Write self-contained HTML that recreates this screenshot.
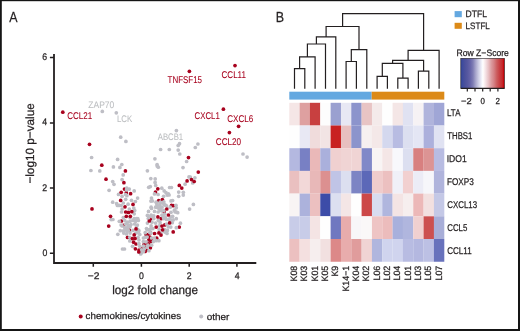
<!DOCTYPE html>
<html><head><meta charset="utf-8"><style>
html,body{margin:0;padding:0;background:#fff;}
body{width:520px;height:331px;overflow:hidden;position:relative;}
svg{position:absolute;left:0;top:0;will-change:transform;}
text{font-family:"Liberation Sans",sans-serif;stroke-width:0.25px;text-rendering:geometricPrecision;}
</style></head><body>
<svg width="520" height="331" viewBox="0 0 520 331" fill="#231f20">
<rect x="0" y="0" width="520" height="331" fill="#fff"/>
<text x="9.30" y="22.10" font-size="14.6" textLength="8.29" lengthAdjust="spacingAndGlyphs" fill="#231f20" stroke="#231f20">A</text>
<text x="275.80" y="22.30" font-size="14.6" textLength="8.31" lengthAdjust="spacingAndGlyphs" fill="#231f20" stroke="#231f20">B</text>
<!-- panel A axes -->
<path d="M54,54V263H256.3" fill="none" stroke="#231f20" stroke-width="1.8"/>
<path d="M49.9,57.6H54M49.9,122.9H54M49.9,188.1H54M49.9,253.3H54M93.3,263V266.7M141.4,263V266.7M189.2,263V266.7M236.9,263V266.7" stroke="#231f20" stroke-width="1.5"/>
<text x="44.75" y="60.00" font-size="9.5" text-anchor="middle" textLength="4.86" lengthAdjust="spacingAndGlyphs" fill="#231f20" stroke="#231f20">6</text>
<text x="44.80" y="125.10" font-size="9.5" text-anchor="middle" textLength="4.86" lengthAdjust="spacingAndGlyphs" fill="#231f20" stroke="#231f20">4</text>
<text x="44.80" y="191.00" font-size="9.5" text-anchor="middle" textLength="4.86" lengthAdjust="spacingAndGlyphs" fill="#231f20" stroke="#231f20">2</text>
<text x="44.95" y="256.40" font-size="9.5" text-anchor="middle" textLength="4.86" lengthAdjust="spacingAndGlyphs" fill="#231f20" stroke="#231f20">0</text>
<text x="93.65" y="279.20" font-size="9.5" text-anchor="middle" textLength="11.70" lengthAdjust="spacingAndGlyphs" fill="#231f20" stroke="#231f20">−2</text>
<text x="141.50" y="279.20" font-size="9.5" text-anchor="middle" textLength="4.86" lengthAdjust="spacingAndGlyphs" fill="#231f20" stroke="#231f20">0</text>
<text x="189.20" y="279.20" font-size="9.5" text-anchor="middle" textLength="4.86" lengthAdjust="spacingAndGlyphs" fill="#231f20" stroke="#231f20">2</text>
<text x="237.20" y="279.20" font-size="9.5" text-anchor="middle" textLength="4.86" lengthAdjust="spacingAndGlyphs" fill="#231f20" stroke="#231f20">4</text>
<text x="112.18" y="293.60" font-size="12.0" textLength="85.80" lengthAdjust="spacingAndGlyphs" fill="#231f20" stroke="#231f20">log2 fold change</text>
<text transform="translate(33.9,183.6) rotate(-90)" textLength="80.3" lengthAdjust="spacingAndGlyphs" font-size="11.9" stroke="#231f20">−log10 p−value</text>
<circle cx="124.5" cy="189.1" r="1.85" fill="#a8021e"/>
<circle cx="126.3" cy="192.7" r="1.85" fill="#a8021e"/>
<circle cx="128.4" cy="212.4" r="1.85" fill="#a8021e"/>
<circle cx="121.5" cy="221.0" r="1.85" fill="#a8021e"/>
<circle cx="123.3" cy="225.3" r="1.85" fill="#a8021e"/>
<circle cx="129.3" cy="230.1" r="1.85" fill="#a8021e"/>
<circle cx="127.5" cy="237.4" r="1.85" fill="#a8021e"/>
<circle cx="136.0" cy="244.0" r="1.85" fill="#a8021e"/>
<circle cx="135.4" cy="248.8" r="1.85" fill="#a8021e"/>
<circle cx="139.0" cy="250.0" r="1.85" fill="#a8021e"/>
<circle cx="142.0" cy="248.8" r="1.85" fill="#a8021e"/>
<circle cx="146.3" cy="250.0" r="1.85" fill="#a8021e"/>
<circle cx="148.7" cy="244.0" r="1.85" fill="#a8021e"/>
<circle cx="144.0" cy="244.6" r="1.85" fill="#a8021e"/>
<circle cx="145.1" cy="251.5" r="1.85" fill="#a8021e"/>
<circle cx="150.4" cy="247.8" r="1.85" fill="#a8021e"/>
<circle cx="149.9" cy="237.2" r="1.85" fill="#a8021e"/>
<circle cx="150.9" cy="241.4" r="1.85" fill="#a8021e"/>
<circle cx="147.8" cy="234.5" r="1.85" fill="#a8021e"/>
<circle cx="150.4" cy="232.9" r="1.85" fill="#a8021e"/>
<circle cx="154.6" cy="233.5" r="1.85" fill="#a8021e"/>
<circle cx="156.7" cy="238.2" r="1.85" fill="#a8021e"/>
<circle cx="155.5" cy="192.1" r="1.85" fill="#a8021e"/>
<circle cx="158.7" cy="200.5" r="1.85" fill="#a8021e"/>
<circle cx="162.4" cy="199.6" r="1.85" fill="#a8021e"/>
<circle cx="173.2" cy="205.7" r="1.85" fill="#a8021e"/>
<circle cx="164.2" cy="212.0" r="1.85" fill="#a8021e"/>
<circle cx="150.3" cy="219.3" r="1.85" fill="#a8021e"/>
<circle cx="161.1" cy="218.7" r="1.85" fill="#a8021e"/>
<circle cx="164.8" cy="224.9" r="1.85" fill="#a8021e"/>
<circle cx="173.2" cy="231.9" r="1.85" fill="#a8021e"/>
<circle cx="179.3" cy="227.1" r="1.85" fill="#a8021e"/>
<circle cx="151.5" cy="239.8" r="1.85" fill="#a8021e"/>
<circle cx="144.8" cy="247.6" r="1.85" fill="#a8021e"/>
<circle cx="141.2" cy="251.3" r="1.85" fill="#a8021e"/>
<circle cx="147.0" cy="243.1" r="1.85" fill="#a8021e"/>
<circle cx="146.1" cy="234.5" r="1.85" fill="#a8021e"/>
<circle cx="171.5" cy="205.4" r="1.85" fill="#a8021e"/>
<circle cx="148.9" cy="239.8" r="1.85" fill="#a8021e"/>
<circle cx="144.3" cy="249.3" r="1.85" fill="#a8021e"/>
<circle cx="102.3" cy="111.4" r="1.85" fill="#bebec5"/>
<circle cx="116.3" cy="112.8" r="1.85" fill="#bebec5"/>
<circle cx="176.4" cy="130.6" r="1.85" fill="#bebec5"/>
<circle cx="120.7" cy="137.2" r="1.85" fill="#bebec5"/>
<circle cx="125.9" cy="141.4" r="1.85" fill="#bebec5"/>
<circle cx="91.6" cy="157.5" r="1.85" fill="#bebec5"/>
<circle cx="117.6" cy="159.4" r="1.85" fill="#bebec5"/>
<circle cx="113.4" cy="166.9" r="1.85" fill="#bebec5"/>
<circle cx="121.8" cy="164.5" r="1.85" fill="#bebec5"/>
<circle cx="119.9" cy="167.4" r="1.85" fill="#bebec5"/>
<circle cx="90.9" cy="170.5" r="1.85" fill="#bebec5"/>
<circle cx="99.8" cy="170.9" r="1.85" fill="#bebec5"/>
<circle cx="123.2" cy="174.9" r="1.85" fill="#bebec5"/>
<circle cx="112.7" cy="181.6" r="1.85" fill="#bebec5"/>
<circle cx="114.0" cy="184.3" r="1.85" fill="#bebec5"/>
<circle cx="122.1" cy="179.6" r="1.85" fill="#bebec5"/>
<circle cx="109.1" cy="190.3" r="1.85" fill="#bebec5"/>
<circle cx="126.7" cy="188.1" r="1.85" fill="#bebec5"/>
<circle cx="118.5" cy="194.4" r="1.85" fill="#bebec5"/>
<circle cx="112.7" cy="202.2" r="1.85" fill="#bebec5"/>
<circle cx="111.2" cy="219.6" r="1.85" fill="#bebec5"/>
<circle cx="117.8" cy="234.3" r="1.85" fill="#bebec5"/>
<circle cx="122.5" cy="249.0" r="1.85" fill="#bebec5"/>
<circle cx="124.5" cy="249.0" r="1.85" fill="#bebec5"/>
<circle cx="129.3" cy="189.1" r="1.85" fill="#bebec5"/>
<circle cx="134.2" cy="190.9" r="1.85" fill="#bebec5"/>
<circle cx="122.1" cy="196.3" r="1.85" fill="#bebec5"/>
<circle cx="126.9" cy="195.7" r="1.85" fill="#bebec5"/>
<circle cx="137.6" cy="198.1" r="1.85" fill="#bebec5"/>
<circle cx="125.7" cy="199.3" r="1.85" fill="#bebec5"/>
<circle cx="131.5" cy="200.3" r="1.85" fill="#bebec5"/>
<circle cx="116.6" cy="203.6" r="1.85" fill="#bebec5"/>
<circle cx="119.1" cy="205.4" r="1.85" fill="#bebec5"/>
<circle cx="123.3" cy="203.0" r="1.85" fill="#bebec5"/>
<circle cx="128.1" cy="204.2" r="1.85" fill="#bebec5"/>
<circle cx="135.4" cy="201.5" r="1.85" fill="#bebec5"/>
<circle cx="122.1" cy="209.0" r="1.85" fill="#bebec5"/>
<circle cx="129.3" cy="209.0" r="1.85" fill="#bebec5"/>
<circle cx="134.2" cy="213.8" r="1.85" fill="#bebec5"/>
<circle cx="121.5" cy="212.0" r="1.85" fill="#bebec5"/>
<circle cx="123.3" cy="217.5" r="1.85" fill="#bebec5"/>
<circle cx="134.2" cy="218.7" r="1.85" fill="#bebec5"/>
<circle cx="137.8" cy="218.7" r="1.85" fill="#bebec5"/>
<circle cx="148.7" cy="187.3" r="1.85" fill="#bebec5"/>
<circle cx="148.7" cy="216.3" r="1.85" fill="#bebec5"/>
<circle cx="122.1" cy="225.9" r="1.85" fill="#bebec5"/>
<circle cx="120.3" cy="230.7" r="1.85" fill="#bebec5"/>
<circle cx="140.2" cy="252.5" r="1.85" fill="#bebec5"/>
<circle cx="155.1" cy="182.4" r="1.85" fill="#bebec5"/>
<circle cx="155.7" cy="185.4" r="1.85" fill="#bebec5"/>
<circle cx="150.3" cy="186.6" r="1.85" fill="#bebec5"/>
<circle cx="161.8" cy="188.2" r="1.85" fill="#bebec5"/>
<circle cx="169.6" cy="187.5" r="1.85" fill="#bebec5"/>
<circle cx="171.4" cy="187.5" r="1.85" fill="#bebec5"/>
<circle cx="154.5" cy="193.9" r="1.85" fill="#bebec5"/>
<circle cx="158.1" cy="194.5" r="1.85" fill="#bebec5"/>
<circle cx="164.2" cy="190.9" r="1.85" fill="#bebec5"/>
<circle cx="166.0" cy="192.7" r="1.85" fill="#bebec5"/>
<circle cx="168.4" cy="193.9" r="1.85" fill="#bebec5"/>
<circle cx="167.2" cy="195.1" r="1.85" fill="#bebec5"/>
<circle cx="163.6" cy="196.3" r="1.85" fill="#bebec5"/>
<circle cx="178.7" cy="192.1" r="1.85" fill="#bebec5"/>
<circle cx="178.7" cy="196.3" r="1.85" fill="#bebec5"/>
<circle cx="151.5" cy="198.1" r="1.85" fill="#bebec5"/>
<circle cx="150.9" cy="201.1" r="1.85" fill="#bebec5"/>
<circle cx="172.6" cy="200.5" r="1.85" fill="#bebec5"/>
<circle cx="156.9" cy="203.6" r="1.85" fill="#bebec5"/>
<circle cx="161.1" cy="203.0" r="1.85" fill="#bebec5"/>
<circle cx="164.2" cy="204.8" r="1.85" fill="#bebec5"/>
<circle cx="176.3" cy="207.8" r="1.85" fill="#bebec5"/>
<circle cx="170.2" cy="207.2" r="1.85" fill="#bebec5"/>
<circle cx="151.5" cy="208.4" r="1.85" fill="#bebec5"/>
<circle cx="156.9" cy="207.2" r="1.85" fill="#bebec5"/>
<circle cx="159.9" cy="208.4" r="1.85" fill="#bebec5"/>
<circle cx="148.5" cy="211.4" r="1.85" fill="#bebec5"/>
<circle cx="154.5" cy="211.4" r="1.85" fill="#bebec5"/>
<circle cx="158.1" cy="212.0" r="1.85" fill="#bebec5"/>
<circle cx="161.8" cy="210.8" r="1.85" fill="#bebec5"/>
<circle cx="174.4" cy="210.2" r="1.85" fill="#bebec5"/>
<circle cx="176.3" cy="212.0" r="1.85" fill="#bebec5"/>
<circle cx="152.1" cy="216.3" r="1.85" fill="#bebec5"/>
<circle cx="163.0" cy="216.3" r="1.85" fill="#bebec5"/>
<circle cx="165.4" cy="217.5" r="1.85" fill="#bebec5"/>
<circle cx="172.6" cy="216.3" r="1.85" fill="#bebec5"/>
<circle cx="176.3" cy="218.7" r="1.85" fill="#bebec5"/>
<circle cx="170.8" cy="227.1" r="1.85" fill="#bebec5"/>
<circle cx="176.3" cy="227.7" r="1.85" fill="#bebec5"/>
<circle cx="166.0" cy="230.7" r="1.85" fill="#bebec5"/>
<circle cx="160.6" cy="149.5" r="1.85" fill="#bebec5"/>
<circle cx="169.3" cy="149.5" r="1.85" fill="#bebec5"/>
<circle cx="154.9" cy="158.8" r="1.85" fill="#bebec5"/>
<circle cx="157.2" cy="166.1" r="1.85" fill="#bebec5"/>
<circle cx="158.3" cy="167.2" r="1.85" fill="#bebec5"/>
<circle cx="147.4" cy="170.8" r="1.85" fill="#bebec5"/>
<circle cx="150.8" cy="178.6" r="1.85" fill="#bebec5"/>
<circle cx="155.2" cy="178.9" r="1.85" fill="#bebec5"/>
<circle cx="179.5" cy="143.7" r="1.85" fill="#bebec5"/>
<circle cx="178.2" cy="145.5" r="1.85" fill="#bebec5"/>
<circle cx="197.9" cy="144.0" r="1.85" fill="#bebec5"/>
<circle cx="195.3" cy="147.5" r="1.85" fill="#bebec5"/>
<circle cx="178.2" cy="150.1" r="1.85" fill="#bebec5"/>
<circle cx="179.8" cy="154.0" r="1.85" fill="#bebec5"/>
<circle cx="186.6" cy="161.5" r="1.85" fill="#bebec5"/>
<circle cx="157.1" cy="164.6" r="1.85" fill="#bebec5"/>
<circle cx="183.0" cy="167.6" r="1.85" fill="#bebec5"/>
<circle cx="190.4" cy="177.1" r="1.85" fill="#bebec5"/>
<circle cx="194.9" cy="177.8" r="1.85" fill="#bebec5"/>
<circle cx="192.7" cy="183.0" r="1.85" fill="#bebec5"/>
<circle cx="185.1" cy="184.2" r="1.85" fill="#bebec5"/>
<circle cx="183.3" cy="192.3" r="1.85" fill="#bebec5"/>
<circle cx="183.3" cy="195.1" r="1.85" fill="#bebec5"/>
<circle cx="176.0" cy="205.3" r="1.85" fill="#bebec5"/>
<circle cx="193.4" cy="204.4" r="1.85" fill="#bebec5"/>
<circle cx="189.6" cy="209.1" r="1.85" fill="#bebec5"/>
<circle cx="175.0" cy="211.8" r="1.85" fill="#bebec5"/>
<circle cx="177.7" cy="212.7" r="1.85" fill="#bebec5"/>
<circle cx="170.4" cy="217.2" r="1.85" fill="#bebec5"/>
<circle cx="173.2" cy="219.9" r="1.85" fill="#bebec5"/>
<circle cx="172.3" cy="222.7" r="1.85" fill="#bebec5"/>
<circle cx="180.4" cy="223.2" r="1.85" fill="#bebec5"/>
<circle cx="243.0" cy="154.0" r="1.85" fill="#bebec5"/>
<circle cx="247.1" cy="157.1" r="1.85" fill="#bebec5"/>
<circle cx="126.5" cy="190.0" r="1.85" fill="#bebec5"/>
<circle cx="125.6" cy="194.5" r="1.85" fill="#bebec5"/>
<circle cx="133.8" cy="208.1" r="1.85" fill="#bebec5"/>
<circle cx="117.4" cy="205.5" r="1.85" fill="#bebec5"/>
<circle cx="121.1" cy="205.5" r="1.85" fill="#bebec5"/>
<circle cx="134.7" cy="210.4" r="1.85" fill="#bebec5"/>
<circle cx="130.1" cy="217.7" r="1.85" fill="#bebec5"/>
<circle cx="136.5" cy="218.6" r="1.85" fill="#bebec5"/>
<circle cx="119.3" cy="221.3" r="1.85" fill="#bebec5"/>
<circle cx="124.7" cy="220.4" r="1.85" fill="#bebec5"/>
<circle cx="127.4" cy="222.2" r="1.85" fill="#bebec5"/>
<circle cx="130.1" cy="221.3" r="1.85" fill="#bebec5"/>
<circle cx="132.9" cy="220.4" r="1.85" fill="#bebec5"/>
<circle cx="135.6" cy="221.3" r="1.85" fill="#bebec5"/>
<circle cx="138.3" cy="220.4" r="1.85" fill="#bebec5"/>
<circle cx="121.1" cy="225.0" r="1.85" fill="#bebec5"/>
<circle cx="125.6" cy="224.0" r="1.85" fill="#bebec5"/>
<circle cx="128.3" cy="225.0" r="1.85" fill="#bebec5"/>
<circle cx="131.0" cy="224.5" r="1.85" fill="#bebec5"/>
<circle cx="134.7" cy="224.0" r="1.85" fill="#bebec5"/>
<circle cx="137.4" cy="225.0" r="1.85" fill="#bebec5"/>
<circle cx="124.7" cy="227.7" r="1.85" fill="#bebec5"/>
<circle cx="127.4" cy="227.7" r="1.85" fill="#bebec5"/>
<circle cx="130.1" cy="226.8" r="1.85" fill="#bebec5"/>
<circle cx="136.5" cy="226.8" r="1.85" fill="#bebec5"/>
<circle cx="125.6" cy="229.9" r="1.85" fill="#bebec5"/>
<circle cx="128.3" cy="230.4" r="1.85" fill="#bebec5"/>
<circle cx="132.9" cy="230.4" r="1.85" fill="#bebec5"/>
<circle cx="137.8" cy="229.5" r="1.85" fill="#bebec5"/>
<circle cx="123.8" cy="233.1" r="1.85" fill="#bebec5"/>
<circle cx="126.5" cy="234.0" r="1.85" fill="#bebec5"/>
<circle cx="130.1" cy="233.1" r="1.85" fill="#bebec5"/>
<circle cx="135.6" cy="233.1" r="1.85" fill="#bebec5"/>
<circle cx="138.3" cy="232.2" r="1.85" fill="#bebec5"/>
<circle cx="112.9" cy="219.5" r="1.85" fill="#bebec5"/>
<circle cx="123.4" cy="230.9" r="1.85" fill="#bebec5"/>
<circle cx="127.1" cy="231.8" r="1.85" fill="#bebec5"/>
<circle cx="137.0" cy="232.7" r="1.85" fill="#bebec5"/>
<circle cx="139.8" cy="234.5" r="1.85" fill="#bebec5"/>
<circle cx="129.8" cy="237.3" r="1.85" fill="#bebec5"/>
<circle cx="138.0" cy="237.3" r="1.85" fill="#bebec5"/>
<circle cx="138.9" cy="240.0" r="1.85" fill="#bebec5"/>
<circle cx="129.8" cy="240.9" r="1.85" fill="#bebec5"/>
<circle cx="132.5" cy="246.3" r="1.85" fill="#bebec5"/>
<circle cx="138.9" cy="243.6" r="1.85" fill="#bebec5"/>
<circle cx="139.8" cy="246.3" r="1.85" fill="#bebec5"/>
<circle cx="141.6" cy="252.7" r="1.85" fill="#bebec5"/>
<circle cx="140.7" cy="254.0" r="1.85" fill="#bebec5"/>
<circle cx="145.2" cy="232.7" r="1.85" fill="#bebec5"/>
<circle cx="145.2" cy="237.3" r="1.85" fill="#bebec5"/>
<circle cx="146.1" cy="241.8" r="1.85" fill="#bebec5"/>
<circle cx="144.3" cy="249.0" r="1.85" fill="#bebec5"/>
<circle cx="147.0" cy="247.2" r="1.85" fill="#bebec5"/>
<circle cx="152.4" cy="200.9" r="1.85" fill="#bebec5"/>
<circle cx="156.1" cy="202.2" r="1.85" fill="#bebec5"/>
<circle cx="160.1" cy="202.2" r="1.85" fill="#bebec5"/>
<circle cx="163.8" cy="201.8" r="1.85" fill="#bebec5"/>
<circle cx="157.0" cy="204.9" r="1.85" fill="#bebec5"/>
<circle cx="159.7" cy="205.4" r="1.85" fill="#bebec5"/>
<circle cx="166.5" cy="205.8" r="1.85" fill="#bebec5"/>
<circle cx="151.1" cy="207.2" r="1.85" fill="#bebec5"/>
<circle cx="155.6" cy="207.2" r="1.85" fill="#bebec5"/>
<circle cx="158.3" cy="208.1" r="1.85" fill="#bebec5"/>
<circle cx="161.9" cy="207.2" r="1.85" fill="#bebec5"/>
<circle cx="171.0" cy="200.9" r="1.85" fill="#bebec5"/>
<circle cx="160.1" cy="210.4" r="1.85" fill="#bebec5"/>
<circle cx="163.8" cy="210.4" r="1.85" fill="#bebec5"/>
<circle cx="171.0" cy="212.3" r="1.85" fill="#bebec5"/>
<circle cx="147.4" cy="215.4" r="1.85" fill="#bebec5"/>
<circle cx="151.1" cy="215.0" r="1.85" fill="#bebec5"/>
<circle cx="153.8" cy="215.9" r="1.85" fill="#bebec5"/>
<circle cx="161.9" cy="215.0" r="1.85" fill="#bebec5"/>
<circle cx="164.7" cy="214.1" r="1.85" fill="#bebec5"/>
<circle cx="148.3" cy="218.6" r="1.85" fill="#bebec5"/>
<circle cx="153.8" cy="218.6" r="1.85" fill="#bebec5"/>
<circle cx="158.3" cy="220.4" r="1.85" fill="#bebec5"/>
<circle cx="163.8" cy="218.6" r="1.85" fill="#bebec5"/>
<circle cx="166.5" cy="219.5" r="1.85" fill="#bebec5"/>
<circle cx="147.4" cy="223.1" r="1.85" fill="#bebec5"/>
<circle cx="152.0" cy="222.2" r="1.85" fill="#bebec5"/>
<circle cx="155.6" cy="223.1" r="1.85" fill="#bebec5"/>
<circle cx="160.1" cy="222.7" r="1.85" fill="#bebec5"/>
<circle cx="169.2" cy="219.5" r="1.85" fill="#bebec5"/>
<circle cx="171.0" cy="220.4" r="1.85" fill="#bebec5"/>
<circle cx="151.1" cy="225.9" r="1.85" fill="#bebec5"/>
<circle cx="159.2" cy="225.9" r="1.85" fill="#bebec5"/>
<circle cx="166.5" cy="224.0" r="1.85" fill="#bebec5"/>
<circle cx="168.3" cy="226.8" r="1.85" fill="#bebec5"/>
<circle cx="146.5" cy="228.6" r="1.85" fill="#bebec5"/>
<circle cx="149.3" cy="229.5" r="1.85" fill="#bebec5"/>
<circle cx="152.9" cy="228.6" r="1.85" fill="#bebec5"/>
<circle cx="159.2" cy="229.5" r="1.85" fill="#bebec5"/>
<circle cx="164.7" cy="229.5" r="1.85" fill="#bebec5"/>
<circle cx="167.4" cy="230.4" r="1.85" fill="#bebec5"/>
<circle cx="151.1" cy="233.1" r="1.85" fill="#bebec5"/>
<circle cx="161.0" cy="233.1" r="1.85" fill="#bebec5"/>
<circle cx="165.6" cy="232.2" r="1.85" fill="#bebec5"/>
<circle cx="138.9" cy="230.7" r="1.85" fill="#bebec5"/>
<circle cx="147.1" cy="229.8" r="1.85" fill="#bebec5"/>
<circle cx="150.7" cy="228.9" r="1.85" fill="#bebec5"/>
<circle cx="164.3" cy="231.6" r="1.85" fill="#bebec5"/>
<circle cx="167.0" cy="233.4" r="1.85" fill="#bebec5"/>
<circle cx="149.8" cy="232.5" r="1.85" fill="#bebec5"/>
<circle cx="143.4" cy="238.0" r="1.85" fill="#bebec5"/>
<circle cx="147.1" cy="237.1" r="1.85" fill="#bebec5"/>
<circle cx="151.6" cy="238.0" r="1.85" fill="#bebec5"/>
<circle cx="154.3" cy="238.0" r="1.85" fill="#bebec5"/>
<circle cx="156.1" cy="240.7" r="1.85" fill="#bebec5"/>
<circle cx="143.4" cy="241.6" r="1.85" fill="#bebec5"/>
<circle cx="153.4" cy="241.6" r="1.85" fill="#bebec5"/>
<circle cx="158.9" cy="240.7" r="1.85" fill="#bebec5"/>
<circle cx="143.4" cy="246.1" r="1.85" fill="#bebec5"/>
<circle cx="148.0" cy="245.2" r="1.85" fill="#bebec5"/>
<circle cx="151.6" cy="245.2" r="1.85" fill="#bebec5"/>
<circle cx="141.6" cy="249.8" r="1.85" fill="#bebec5"/>
<circle cx="148.9" cy="250.7" r="1.85" fill="#bebec5"/>
<circle cx="143.4" cy="251.6" r="1.85" fill="#bebec5"/>
<circle cx="169.1" cy="195.0" r="1.85" fill="#bebec5"/>
<circle cx="189.0" cy="176.9" r="1.85" fill="#bebec5"/>
<circle cx="163.6" cy="203.2" r="1.85" fill="#bebec5"/>
<circle cx="165.4" cy="205.0" r="1.85" fill="#bebec5"/>
<circle cx="62.8" cy="112.2" r="1.85" fill="#a8021e"/>
<circle cx="189.4" cy="71.3" r="1.85" fill="#a8021e"/>
<circle cx="235.0" cy="65.6" r="1.85" fill="#a8021e"/>
<circle cx="223.4" cy="109.2" r="1.85" fill="#a8021e"/>
<circle cx="238.6" cy="126.3" r="1.85" fill="#a8021e"/>
<circle cx="229.4" cy="132.6" r="1.85" fill="#a8021e"/>
<circle cx="89.5" cy="144.3" r="1.85" fill="#a8021e"/>
<circle cx="101.8" cy="165.2" r="1.85" fill="#a8021e"/>
<circle cx="125.4" cy="170.9" r="1.85" fill="#a8021e"/>
<circle cx="106.0" cy="179.2" r="1.85" fill="#a8021e"/>
<circle cx="123.9" cy="182.7" r="1.85" fill="#a8021e"/>
<circle cx="92.0" cy="208.9" r="1.85" fill="#a8021e"/>
<circle cx="121.2" cy="192.3" r="1.85" fill="#a8021e"/>
<circle cx="130.6" cy="193.7" r="1.85" fill="#a8021e"/>
<circle cx="120.7" cy="200.4" r="1.85" fill="#a8021e"/>
<circle cx="125.0" cy="206.8" r="1.85" fill="#a8021e"/>
<circle cx="133.0" cy="204.4" r="1.85" fill="#a8021e"/>
<circle cx="110.5" cy="216.3" r="1.85" fill="#a8021e"/>
<circle cx="108.7" cy="226.1" r="1.85" fill="#a8021e"/>
<circle cx="125.7" cy="212.0" r="1.85" fill="#a8021e"/>
<circle cx="131.8" cy="211.7" r="1.85" fill="#a8021e"/>
<circle cx="126.3" cy="216.3" r="1.85" fill="#a8021e"/>
<circle cx="130.3" cy="216.3" r="1.85" fill="#a8021e"/>
<circle cx="136.0" cy="228.9" r="1.85" fill="#a8021e"/>
<circle cx="134.2" cy="234.9" r="1.85" fill="#a8021e"/>
<circle cx="132.4" cy="238.6" r="1.85" fill="#a8021e"/>
<circle cx="133.6" cy="242.2" r="1.85" fill="#a8021e"/>
<circle cx="149.3" cy="221.0" r="1.85" fill="#a8021e"/>
<circle cx="135.1" cy="238.5" r="1.85" fill="#a8021e"/>
<circle cx="138.8" cy="252.0" r="1.85" fill="#a8021e"/>
<circle cx="156.2" cy="227.1" r="1.85" fill="#a8021e"/>
<circle cx="162.0" cy="226.1" r="1.85" fill="#a8021e"/>
<circle cx="158.9" cy="232.9" r="1.85" fill="#a8021e"/>
<circle cx="161.0" cy="235.1" r="1.85" fill="#a8021e"/>
<circle cx="162.6" cy="229.8" r="1.85" fill="#a8021e"/>
<circle cx="157.8" cy="188.8" r="1.85" fill="#a8021e"/>
<circle cx="179.3" cy="185.4" r="1.85" fill="#a8021e"/>
<circle cx="166.8" cy="209.0" r="1.85" fill="#a8021e"/>
<circle cx="168.4" cy="215.0" r="1.85" fill="#a8021e"/>
<circle cx="157.9" cy="216.9" r="1.85" fill="#a8021e"/>
<circle cx="169.6" cy="222.9" r="1.85" fill="#a8021e"/>
<circle cx="188.5" cy="157.6" r="1.85" fill="#a8021e"/>
<circle cx="198.3" cy="172.1" r="1.85" fill="#a8021e"/>
<circle cx="187.1" cy="180.9" r="1.85" fill="#a8021e"/>
<circle cx="191.5" cy="179.6" r="1.85" fill="#a8021e"/>
<circle cx="194.2" cy="181.5" r="1.85" fill="#a8021e"/>
<circle cx="181.8" cy="188.1" r="1.85" fill="#a8021e"/>
<text x="67.30" y="118.90" font-size="9.8" textLength="24.92" lengthAdjust="spacingAndGlyphs" fill="#a8021e" stroke="#a8021e" style="stroke-width:0.08px">CCL21</text>
<text x="167.54" y="83.40" font-size="9.8" textLength="34.51" lengthAdjust="spacingAndGlyphs" fill="#a8021e" stroke="#a8021e" style="stroke-width:0.08px">TNFSF15</text>
<text x="221.50" y="77.60" font-size="9.8" textLength="24.49" lengthAdjust="spacingAndGlyphs" fill="#a8021e" stroke="#a8021e" style="stroke-width:0.08px">CCL11</text>
<text x="194.61" y="118.60" font-size="9.8" textLength="25.21" lengthAdjust="spacingAndGlyphs" fill="#a8021e" stroke="#a8021e" style="stroke-width:0.08px">CXCL1</text>
<text x="227.20" y="121.80" font-size="9.8" textLength="26.06" lengthAdjust="spacingAndGlyphs" fill="#a8021e" stroke="#a8021e" style="stroke-width:0.08px">CXCL6</text>
<text x="215.79" y="145.40" font-size="9.8" textLength="25.36" lengthAdjust="spacingAndGlyphs" fill="#a8021e" stroke="#a8021e" style="stroke-width:0.08px">CCL20</text>
<text x="88.35" y="107.70" font-size="9.5" textLength="25.97" lengthAdjust="spacingAndGlyphs" fill="#bcbec0" stroke="#bcbec0" style="stroke-width:0.08px">ZAP70</text>
<text x="116.97" y="122.20" font-size="9.5" textLength="15.25" lengthAdjust="spacingAndGlyphs" fill="#bcbec0" stroke="#bcbec0" style="stroke-width:0.08px">LCK</text>
<text x="157.80" y="140.00" font-size="9.5" textLength="25.38" lengthAdjust="spacingAndGlyphs" fill="#bcbec0" stroke="#bcbec0" style="stroke-width:0.08px">ABCB1</text>
<circle cx="80.7" cy="316.5" r="2" fill="#a8021e"/>
<text x="85.61" y="319.00" font-size="9.4" textLength="95.51" lengthAdjust="spacingAndGlyphs" fill="#231f20" stroke="#231f20">chemokines/cytokines</text>
<circle cx="201.2" cy="316.5" r="2" fill="#bebec5"/>
<text x="206.70" y="319.50" font-size="9.4" textLength="22.69" lengthAdjust="spacingAndGlyphs" fill="#231f20" stroke="#231f20">other</text>
<!-- panel B -->
<path d="M294.5,88.8V68.7H304.8V88.8 M299.6,68.7V56.9H315.1V88.8 M307.4,56.9V44.0H325.5V88.8 M316.4,44.0V36.8H335.8V88.8 M346.1,88.8V61.5H356.4V88.8 M351.3,61.5V49.6H366.8V88.8 M326.1,36.8V26.5H359.0V49.6 M377.1,88.8V76.3H387.4V88.8 M397.8,88.8V78.1H408.1V88.8 M382.3,76.3V63.4H402.9V78.1 M418.4,88.8V71.2H428.8V88.8 M392.6,63.4V60.4H423.6V71.2 M408.1,60.4V50.3H439.1V88.8 M342.6,26.5V13.6H423.6V50.3" fill="none" stroke="#231f20" stroke-width="1.2"/>
<rect x="289.3" y="91.7" width="82.4" height="7.9" fill="#64a8e0"/>
<rect x="371.7" y="91.7" width="72.6" height="7.9" fill="#dc8a18"/>
<rect x="289.30" y="102.80" width="10.38" height="22.75" fill="#f5e6e6"/>
<rect x="299.63" y="102.80" width="10.38" height="22.75" fill="#dea0a0"/>
<rect x="309.96" y="102.80" width="10.38" height="22.75" fill="#c84040"/>
<rect x="320.29" y="102.80" width="10.38" height="22.75" fill="#fdfdfd"/>
<rect x="330.62" y="102.80" width="10.38" height="22.75" fill="#9aa0d0"/>
<rect x="340.95" y="102.80" width="10.38" height="22.75" fill="#e8e8f4"/>
<rect x="351.28" y="102.80" width="10.38" height="22.75" fill="#8c94cc"/>
<rect x="361.61" y="102.80" width="10.38" height="22.75" fill="#e8c4c4"/>
<rect x="371.94" y="102.80" width="10.38" height="22.75" fill="#f4eaea"/>
<rect x="382.27" y="102.80" width="10.38" height="22.75" fill="#fefefe"/>
<rect x="392.60" y="102.80" width="10.38" height="22.75" fill="#f4e6e6"/>
<rect x="402.93" y="102.80" width="10.38" height="22.75" fill="#e0e2f2"/>
<rect x="413.26" y="102.80" width="10.38" height="22.75" fill="#f6f2f4"/>
<rect x="423.59" y="102.80" width="10.38" height="22.75" fill="#b0b4dc"/>
<rect x="433.92" y="102.80" width="10.38" height="22.75" fill="#a0a6d6"/>
<rect x="289.30" y="125.50" width="10.38" height="22.75" fill="#fefefe"/>
<rect x="299.63" y="125.50" width="10.38" height="22.75" fill="#e8e8f4"/>
<rect x="309.96" y="125.50" width="10.38" height="22.75" fill="#f0dcdc"/>
<rect x="320.29" y="125.50" width="10.38" height="22.75" fill="#f2e4e4"/>
<rect x="330.62" y="125.50" width="10.38" height="22.75" fill="#c82020"/>
<rect x="340.95" y="125.50" width="10.38" height="22.75" fill="#e8c0c0"/>
<rect x="351.28" y="125.50" width="10.38" height="22.75" fill="#8c94cc"/>
<rect x="361.61" y="125.50" width="10.38" height="22.75" fill="#f6f0f0"/>
<rect x="371.94" y="125.50" width="10.38" height="22.75" fill="#f4e8e8"/>
<rect x="382.27" y="125.50" width="10.38" height="22.75" fill="#d4d8ee"/>
<rect x="392.60" y="125.50" width="10.38" height="22.75" fill="#b8bce2"/>
<rect x="402.93" y="125.50" width="10.38" height="22.75" fill="#dcdff0"/>
<rect x="413.26" y="125.50" width="10.38" height="22.75" fill="#e4e6f4"/>
<rect x="423.59" y="125.50" width="10.38" height="22.75" fill="#acb0dc"/>
<rect x="433.92" y="125.50" width="10.38" height="22.75" fill="#e0e2f2"/>
<rect x="289.30" y="148.20" width="10.38" height="22.75" fill="#b4b8e0"/>
<rect x="299.63" y="148.20" width="10.38" height="22.75" fill="#7880c4"/>
<rect x="309.96" y="148.20" width="10.38" height="22.75" fill="#eab8b8"/>
<rect x="320.29" y="148.20" width="10.38" height="22.75" fill="#aab0dc"/>
<rect x="330.62" y="148.20" width="10.38" height="22.75" fill="#f0d0d0"/>
<rect x="340.95" y="148.20" width="10.38" height="22.75" fill="#f0d4d4"/>
<rect x="351.28" y="148.20" width="10.38" height="22.75" fill="#f0d4d4"/>
<rect x="361.61" y="148.20" width="10.38" height="22.75" fill="#8088c8"/>
<rect x="371.94" y="148.20" width="10.38" height="22.75" fill="#f8f4f4"/>
<rect x="382.27" y="148.20" width="10.38" height="22.75" fill="#f4e6e6"/>
<rect x="392.60" y="148.20" width="10.38" height="22.75" fill="#f8f8fc"/>
<rect x="402.93" y="148.20" width="10.38" height="22.75" fill="#dcdff0"/>
<rect x="413.26" y="148.20" width="10.38" height="22.75" fill="#d88080"/>
<rect x="423.59" y="148.20" width="10.38" height="22.75" fill="#dc9494"/>
<rect x="433.92" y="148.20" width="10.38" height="22.75" fill="#b8bce2"/>
<rect x="289.30" y="170.90" width="10.38" height="22.75" fill="#eac0c0"/>
<rect x="299.63" y="170.90" width="10.38" height="22.75" fill="#f2d8d8"/>
<rect x="309.96" y="170.90" width="10.38" height="22.75" fill="#e8b8b8"/>
<rect x="320.29" y="170.90" width="10.38" height="22.75" fill="#dc9090"/>
<rect x="330.62" y="170.90" width="10.38" height="22.75" fill="#c0c4e6"/>
<rect x="340.95" y="170.90" width="10.38" height="22.75" fill="#dcdff0"/>
<rect x="351.28" y="170.90" width="10.38" height="22.75" fill="#7c84c4"/>
<rect x="361.61" y="170.90" width="10.38" height="22.75" fill="#5c68b8"/>
<rect x="371.94" y="170.90" width="10.38" height="22.75" fill="#f0cccc"/>
<rect x="382.27" y="170.90" width="10.38" height="22.75" fill="#ecc0c0"/>
<rect x="392.60" y="170.90" width="10.38" height="22.75" fill="#f0f0f8"/>
<rect x="402.93" y="170.90" width="10.38" height="22.75" fill="#f2d0d0"/>
<rect x="413.26" y="170.90" width="10.38" height="22.75" fill="#ececf6"/>
<rect x="423.59" y="170.90" width="10.38" height="22.75" fill="#f6f6fa"/>
<rect x="433.92" y="170.90" width="10.38" height="22.75" fill="#b0b4dc"/>
<rect x="289.30" y="193.60" width="10.38" height="22.75" fill="#f8f4f4"/>
<rect x="299.63" y="193.60" width="10.38" height="22.75" fill="#acb2dc"/>
<rect x="309.96" y="193.60" width="10.38" height="22.75" fill="#ecc0c0"/>
<rect x="320.29" y="193.60" width="10.38" height="22.75" fill="#3c4ca8"/>
<rect x="330.62" y="193.60" width="10.38" height="22.75" fill="#dcdff0"/>
<rect x="340.95" y="193.60" width="10.38" height="22.75" fill="#f4e6e6"/>
<rect x="351.28" y="193.60" width="10.38" height="22.75" fill="#fefefe"/>
<rect x="361.61" y="193.60" width="10.38" height="22.75" fill="#cc4848"/>
<rect x="371.94" y="193.60" width="10.38" height="22.75" fill="#d8dcf0"/>
<rect x="382.27" y="193.60" width="10.38" height="22.75" fill="#b0b6de"/>
<rect x="392.60" y="193.60" width="10.38" height="22.75" fill="#f4e4e4"/>
<rect x="402.93" y="193.60" width="10.38" height="22.75" fill="#f6eeee"/>
<rect x="413.26" y="193.60" width="10.38" height="22.75" fill="#ecb8b8"/>
<rect x="423.59" y="193.60" width="10.38" height="22.75" fill="#f2e0e0"/>
<rect x="433.92" y="193.60" width="10.38" height="22.75" fill="#c4c8e6"/>
<rect x="289.30" y="216.30" width="10.38" height="22.75" fill="#c8cce8"/>
<rect x="299.63" y="216.30" width="10.38" height="22.75" fill="#c8cce8"/>
<rect x="309.96" y="216.30" width="10.38" height="22.75" fill="#f4e4e4"/>
<rect x="320.29" y="216.30" width="10.38" height="22.75" fill="#fefefe"/>
<rect x="330.62" y="216.30" width="10.38" height="22.75" fill="#7078c0"/>
<rect x="340.95" y="216.30" width="10.38" height="22.75" fill="#e8acac"/>
<rect x="351.28" y="216.30" width="10.38" height="22.75" fill="#f8f6f8"/>
<rect x="361.61" y="216.30" width="10.38" height="22.75" fill="#faf8f8"/>
<rect x="371.94" y="216.30" width="10.38" height="22.75" fill="#eec4c4"/>
<rect x="382.27" y="216.30" width="10.38" height="22.75" fill="#ecbcbc"/>
<rect x="392.60" y="216.30" width="10.38" height="22.75" fill="#a8b0dc"/>
<rect x="402.93" y="216.30" width="10.38" height="22.75" fill="#b0b6de"/>
<rect x="413.26" y="216.30" width="10.38" height="22.75" fill="#f0d0d0"/>
<rect x="423.59" y="216.30" width="10.38" height="22.75" fill="#cc5050"/>
<rect x="433.92" y="216.30" width="10.38" height="22.75" fill="#a8aed8"/>
<rect x="289.30" y="239.00" width="10.38" height="22.75" fill="#ecc0c0"/>
<rect x="299.63" y="239.00" width="10.38" height="22.75" fill="#f4e0e0"/>
<rect x="309.96" y="239.00" width="10.38" height="22.75" fill="#f6eeee"/>
<rect x="320.29" y="239.00" width="10.38" height="22.75" fill="#f2e0e0"/>
<rect x="330.62" y="239.00" width="10.38" height="22.75" fill="#dc8888"/>
<rect x="340.95" y="239.00" width="10.38" height="22.75" fill="#e8acac"/>
<rect x="351.28" y="239.00" width="10.38" height="22.75" fill="#e09c9c"/>
<rect x="361.61" y="239.00" width="10.38" height="22.75" fill="#f0d4d4"/>
<rect x="371.94" y="239.00" width="10.38" height="22.75" fill="#b0b6de"/>
<rect x="382.27" y="239.00" width="10.38" height="22.75" fill="#d0d4ee"/>
<rect x="392.60" y="239.00" width="10.38" height="22.75" fill="#d0d4ee"/>
<rect x="402.93" y="239.00" width="10.38" height="22.75" fill="#b8bce2"/>
<rect x="413.26" y="239.00" width="10.38" height="22.75" fill="#b4b8e0"/>
<rect x="423.59" y="239.00" width="10.38" height="22.75" fill="#bcc0e4"/>
<rect x="433.92" y="239.00" width="10.38" height="22.75" fill="#6872bc"/>
<text x="447.06" y="115.90" font-size="9.8" textLength="13.38" lengthAdjust="spacingAndGlyphs" fill="#231f20" stroke="#231f20">LTA</text><text x="447.24" y="138.70" font-size="9.8" textLength="25.17" lengthAdjust="spacingAndGlyphs" fill="#231f20" stroke="#231f20">THBS1</text><text x="446.63" y="161.80" font-size="9.8" textLength="20.04" lengthAdjust="spacingAndGlyphs" fill="#231f20" stroke="#231f20">IDO1</text><text x="446.94" y="185.30" font-size="9.8" textLength="26.86" lengthAdjust="spacingAndGlyphs" fill="#231f20" stroke="#231f20">FOXP3</text><text x="447.20" y="208.00" font-size="9.8" textLength="29.89" lengthAdjust="spacingAndGlyphs" fill="#231f20" stroke="#231f20">CXCL13</text><text x="447.21" y="230.70" font-size="9.8" textLength="20.16" lengthAdjust="spacingAndGlyphs" fill="#231f20" stroke="#231f20">CCL5</text><text x="447.20" y="254.30" font-size="9.8" textLength="24.49" lengthAdjust="spacingAndGlyphs" fill="#231f20" stroke="#231f20">CCL11</text>
<text transform="translate(297.07,265.7) rotate(-90)" text-anchor="end" font-size="9.2" textLength="15.80" lengthAdjust="spacingAndGlyphs" stroke="#231f20">K08</text><text transform="translate(307.40,265.7) rotate(-90)" text-anchor="end" font-size="9.2" textLength="15.80" lengthAdjust="spacingAndGlyphs" stroke="#231f20">K03</text><text transform="translate(317.73,265.7) rotate(-90)" text-anchor="end" font-size="9.2" textLength="15.80" lengthAdjust="spacingAndGlyphs" stroke="#231f20">K01</text><text transform="translate(328.06,265.7) rotate(-90)" text-anchor="end" font-size="9.2" textLength="15.80" lengthAdjust="spacingAndGlyphs" stroke="#231f20">K05</text><text transform="translate(338.39,265.7) rotate(-90)" text-anchor="end" font-size="9.2" textLength="10.86" lengthAdjust="spacingAndGlyphs" stroke="#231f20">K9</text><text transform="translate(348.72,265.7) rotate(-90)" text-anchor="end" font-size="9.2" textLength="25.92" lengthAdjust="spacingAndGlyphs" stroke="#231f20">K14−1</text><text transform="translate(359.05,265.7) rotate(-90)" text-anchor="end" font-size="9.2" textLength="15.80" lengthAdjust="spacingAndGlyphs" stroke="#231f20">K04</text><text transform="translate(369.38,265.7) rotate(-90)" text-anchor="end" font-size="9.2" textLength="15.80" lengthAdjust="spacingAndGlyphs" stroke="#231f20">K02</text><text transform="translate(379.71,265.7) rotate(-90)" text-anchor="end" font-size="9.2" textLength="14.81" lengthAdjust="spacingAndGlyphs" stroke="#231f20">L06</text><text transform="translate(390.04,265.7) rotate(-90)" text-anchor="end" font-size="9.2" textLength="14.81" lengthAdjust="spacingAndGlyphs" stroke="#231f20">L02</text><text transform="translate(400.37,265.7) rotate(-90)" text-anchor="end" font-size="9.2" textLength="14.81" lengthAdjust="spacingAndGlyphs" stroke="#231f20">L04</text><text transform="translate(410.70,265.7) rotate(-90)" text-anchor="end" font-size="9.2" textLength="14.81" lengthAdjust="spacingAndGlyphs" stroke="#231f20">L01</text><text transform="translate(421.03,265.7) rotate(-90)" text-anchor="end" font-size="9.2" textLength="14.81" lengthAdjust="spacingAndGlyphs" stroke="#231f20">L03</text><text transform="translate(431.36,265.7) rotate(-90)" text-anchor="end" font-size="9.2" textLength="14.81" lengthAdjust="spacingAndGlyphs" stroke="#231f20">L05</text><text transform="translate(441.69,265.7) rotate(-90)" text-anchor="end" font-size="9.2" textLength="14.81" lengthAdjust="spacingAndGlyphs" stroke="#231f20">L07</text>
<rect x="454.6" y="11.1" width="7.2" height="6.1" fill="#64a8e0"/>
<rect x="454.6" y="22.8" width="7.2" height="6.0" fill="#dc8a18"/>
<text x="465.51" y="17.40" font-size="9.3" textLength="21.44" lengthAdjust="spacingAndGlyphs" fill="#231f20" stroke="#231f20">DTFL</text>
<text x="465.55" y="28.90" font-size="9.3" textLength="24.30" lengthAdjust="spacingAndGlyphs" fill="#231f20" stroke="#231f20">LSTFL</text>
<text x="456.51" y="55.60" font-size="9.3" textLength="52.38" lengthAdjust="spacingAndGlyphs" fill="#231f20" stroke="#231f20">Row Z−Score</text>
<defs><linearGradient id="cb" x1="0" x2="1" y1="0" y2="0">
<stop offset="0" stop-color="#36469c"/><stop offset="0.023" stop-color="#3a4a9e"/><stop offset="0.087" stop-color="#4a509c"/><stop offset="0.151" stop-color="#5658a0"/><stop offset="0.215" stop-color="#6664a8"/><stop offset="0.277" stop-color="#7e7cb4"/><stop offset="0.341" stop-color="#a8a6cc"/><stop offset="0.405" stop-color="#cccce4"/><stop offset="0.458" stop-color="#e8e8f4"/><stop offset="0.499" stop-color="#fcfcff"/><stop offset="0.52" stop-color="#fef8f8"/><stop offset="0.57" stop-color="#f4e0e4"/><stop offset="0.634" stop-color="#e8c0c4"/><stop offset="0.696" stop-color="#dc9ca0"/><stop offset="0.76" stop-color="#d48084"/><stop offset="0.824" stop-color="#cc5c5e"/><stop offset="0.886" stop-color="#c84044"/><stop offset="0.95" stop-color="#c42a2c"/><stop offset="0.982" stop-color="#c80008"/><stop offset="1" stop-color="#c40000"/>
</linearGradient></defs>
<rect x="460.8" y="58.3" width="43.7" height="30.1" fill="url(#cb)" stroke="#231f20" stroke-width="0.6"/>
<path d="M460.8,88.3H504.5M467.3,88.3V91.4M475,88.3V91.4M482.7,88.3V91.4M490.2,88.3V91.4M497.9,88.3V91.4" stroke="#231f20" stroke-width="1.2"/>
<text x="466.35" y="103.70" font-size="8.7" text-anchor="middle" textLength="10.71" lengthAdjust="spacingAndGlyphs" fill="#231f20" stroke="#231f20">−2</text>
<text x="482.70" y="103.70" font-size="8.7" text-anchor="middle" textLength="4.45" lengthAdjust="spacingAndGlyphs" fill="#231f20" stroke="#231f20">0</text>
<text x="497.80" y="103.70" font-size="8.7" text-anchor="middle" textLength="4.45" lengthAdjust="spacingAndGlyphs" fill="#231f20" stroke="#231f20">2</text>
<!-- frame -->
<rect x="0" y="0" width="520" height="1.2" fill="#151515"/>
<rect x="0" y="0" width="1.8" height="331" fill="#151515"/>
<rect x="518" y="0" width="2" height="331" fill="#151515"/>
<rect x="0" y="329" width="520" height="2" fill="#151515"/>
</svg>
</body></html>
